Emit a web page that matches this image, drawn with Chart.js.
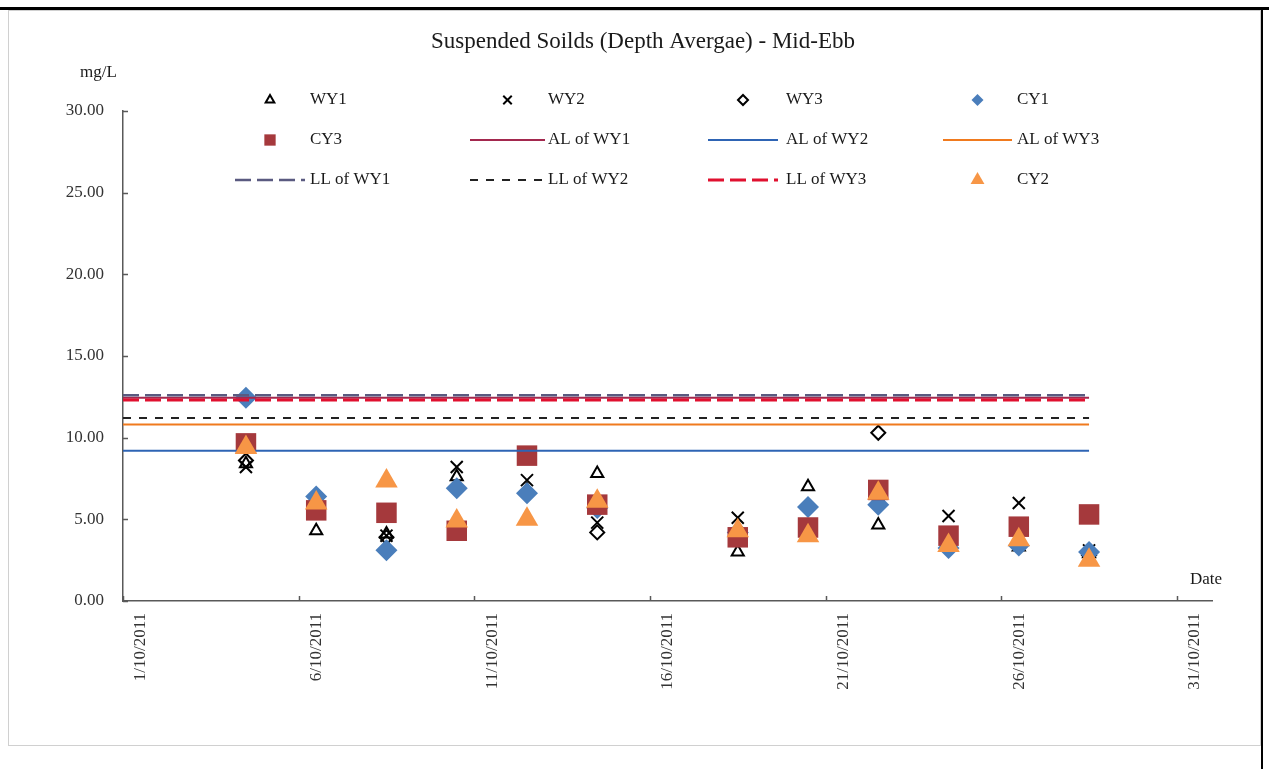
<!DOCTYPE html>
<html>
<head>
<meta charset="utf-8">
<script src="https://cdn.jsdelivr.net/npm/chart.js@4.4.0/dist/chart.umd.min.js"></script>
<style>
  html, body { margin: 0; padding: 0; background: #fff; }
  #wrap { width: 1269px; height: 769px; }
</style>
</head>
<body>
<div id="wrap"><canvas id="ssChart" width="1269" height="769"></canvas></div>
<script>
// sampling days in October 2011 (day of month, noon)
const sampleDays = [4.5, 6.5, 8.5, 10.5, 12.5, 14.5, 18.5, 20.5, 22.5, 24.5, 26.5, 28.5];

// suspended solids, mg/L
const wy1 = [8.4, 4.3, 4.1, 7.6, 6.8, 7.8, 3.0, 7.0, 4.65, 3.5, 3.3, 2.9];
const wy2 = [8.2, 6.0, 4.0, 8.2, 7.4, 4.8, 5.1, 4.5, 6.5, 5.2, 6.0, 3.1];
const wy3 = [8.6, 6.3, 3.9, 6.9, 6.5, 4.2, 4.3, 4.5, 10.3, 3.8, 3.5, 2.8];
const cy1 = [12.45, 6.4, 3.1, 6.9, 6.6, 5.7, 4.2, 5.75, 5.9, 3.25, 3.4, 3.0];
const cy3 = [9.65, 5.55, 5.4, 4.3, 8.9, 5.9, 3.9, 4.5, 6.8, 4.0, 4.55, 5.3];
const cy2 = [9.4, 6.0, 7.35, 4.9, 5.0, 6.1, 4.3, 4.0, 6.6, 3.4, 3.75, 2.5];

// action / limit levels
const alWY1 = 12.45, alWY2 = 9.2, alWY3 = 10.8;
const llWY1 = 12.6, llWY2 = 11.2, llWY3 = 12.3;
const levelSpan = [1, 28.5];   // lines run from 1/10 to last survey

// axis ticks
const xTickDays = [1, 6, 11, 16, 21, 26, 31];
const yTicks = [0, 5, 10, 15, 20, 25, 30];

const serif = "'Liberation Serif', 'Times New Roman', serif";

function pts(vals) {
  return sampleDays.map((d, i) => ({ x: d, y: vals[i] }));
}
function level(v) {
  return levelSpan.map(d => ({ x: d, y: v }));
}

// marker series
function markers(label, vals, style, r, fill, stroke, bw, legendR) {
  return {
    label: label, data: pts(vals), showLine: false,
    pointStyle: style, pointRadius: r, pointHoverRadius: r,
    backgroundColor: fill, borderColor: stroke, pointBorderWidth: bw,
    legendR: legendR
  };
}
// horizontal level lines
function levelLine(label, v, color, width, dash) {
  return {
    label: label, data: level(v), showLine: true, isLevel: true,
    borderColor: color, backgroundColor: color, borderWidth: width,
    borderDash: dash, pointRadius: 0, pointHoverRadius: 0, fill: false
  };
}

const datasets = [
  markers('WY1', wy1, 'triangle', 7, 'rgba(0,0,0,0)', '#000', 2, 5),
  markers('WY2', wy2, 'crossRot', 8.5, '#000', '#000', 2, 6),
  markers('WY3', wy3, 'rectRot', 7, 'rgba(0,0,0,0)', '#000', 2, 5),
  markers('CY1', cy1, 'rectRot', 11, '#4a7ebb', '#4a7ebb', 0, 6),
  markers('CY3', cy3, 'rect', 14.5, '#a5393c', '#a5393c', 0, 8),
  levelLine('AL of WY1', alWY1, '#a3284e', 2, []),
  levelLine('AL of WY2', alWY2, '#2e64b4', 2, []),
  levelLine('AL of WY3', alWY3, '#f07a1e', 2, []),
  levelLine('LL of WY1', llWY1, '#5a5a80', 2.5, [16, 6]),
  levelLine('LL of WY2', llWY2, '#222', 2, [8, 8]),
  levelLine('LL of WY3', llWY3, '#e0102f', 3, [16, 6]),
  markers('CY2', cy2, 'triangle', 13, '#f79646', '#f79646', 0, 8)
];
// later series on top, like the source spreadsheet
datasets.forEach((ds, i) => { ds.order = datasets.length - i; });

// legend grid: 4 columns x 3 rows
const legendCols = [
  { x0: 235, x1: 305, tx: 310 },
  { x0: 470, x1: 545, tx: 548 },
  { x0: 708, x1: 778, tx: 786 },
  { x0: 943, x1: 1012, tx: 1017 }
];
const legendRows = [100, 140, 180];

const decorations = {
  id: 'decorations',
  beforeDraw(chart) {
    const ctx = chart.ctx;
    ctx.save();
    ctx.fillStyle = '#fff';
    ctx.fillRect(0, 0, chart.width, chart.height);
    // outer frame
    ctx.strokeStyle = '#d0d0d0';
    ctx.lineWidth = 1;
    ctx.strokeRect(8.5, 10.5, 1252, 735);
    ctx.strokeStyle = '#000';
    ctx.lineWidth = 3;
    ctx.beginPath();
    ctx.moveTo(0, 8.5); ctx.lineTo(1269, 8.5);
    ctx.stroke();
    ctx.lineWidth = 2;
    ctx.beginPath();
    ctx.moveTo(1262, 8); ctx.lineTo(1262, 769);
    ctx.stroke();
    ctx.restore();
  },
  afterDraw(chart) {
    const ctx = chart.ctx;
    const xs = chart.scales.x, ys = chart.scales.y;
    ctx.save();
    // inward tick marks
    ctx.strokeStyle = '#595959';
    ctx.lineWidth = 1.5;
    ctx.beginPath();
    ys.ticks.forEach(t => {
      const py = Math.round(ys.getPixelForValue(t.value)) + 0.5;
      ctx.moveTo(xs.left, py); ctx.lineTo(xs.left + 5, py);
    });
    xs.ticks.forEach(t => {
      const px = Math.round(xs.getPixelForValue(t.value)) + 0.5;
      ctx.moveTo(px, ys.bottom); ctx.lineTo(px, ys.bottom - 5);
    });
    ctx.stroke();

    // title and axis names
    ctx.fillStyle = '#1a1a1a';
    ctx.textBaseline = 'middle';
    ctx.textAlign = 'center';
    ctx.font = '23px ' + serif;
    ctx.fillText('Suspended Soilds (Depth Avergae) - Mid-Ebb', 643, 42);
    ctx.font = '17px ' + serif;
    ctx.textAlign = 'left';
    ctx.fillText('mg/L', 80, 73);
    ctx.fillText('Date', 1190, 580);

    // legend
    chart.data.datasets.forEach((ds, i) => {
      const col = legendCols[i % 4], y = legendRows[Math.floor(i / 4)];
      if (ds.isLevel) {
        ctx.strokeStyle = ds.borderColor;
        ctx.lineWidth = ds.borderWidth;
        ctx.setLineDash(ds.borderDash);
        ctx.beginPath();
        ctx.moveTo(col.x0, y); ctx.lineTo(col.x1, y);
        ctx.stroke();
        ctx.setLineDash([]);
      } else {
        ctx.fillStyle = ds.backgroundColor;
        ctx.strokeStyle = ds.borderColor;
        ctx.lineWidth = ds.pointBorderWidth;
        Chart.helpers.drawPoint(ctx, {
          pointStyle: ds.pointStyle, radius: ds.legendR, rotation: 0,
          borderWidth: ds.pointBorderWidth
        }, (col.x0 + col.x1) / 2, y);
      }
      ctx.fillStyle = '#1a1a1a';
      ctx.font = '17px ' + serif;
      ctx.textAlign = 'left';
      ctx.fillText(ds.label, col.tx, y);
    });
    ctx.restore();
  }
};

new Chart(document.getElementById('ssChart').getContext('2d'), {
  type: 'scatter',
  data: { datasets: datasets },
  options: {
    responsive: false,
    animation: false,
    layout: { padding: { left: 0, top: 111, right: 57, bottom: 0 } },
    plugins: {
      legend: { display: false },
      title: { display: false },
      tooltip: { enabled: false }
    },
    scales: {
      x: {
        type: 'linear', min: 1, max: 32,
        afterBuildTicks: scale => { scale.ticks = xTickDays.map(v => ({ value: v })); },
        afterFit: scale => { scale.height = 168; },
        grid: { display: false, drawTicks: false },
        border: { color: '#595959', width: 1.5 },
        ticks: {
          autoSkip: false, minRotation: 90, maxRotation: 90,
          padding: 12, labelOffset: 18,
          color: '#333', font: { family: serif, size: 17 },
          callback: v => v + '/10/2011'
        }
      },
      y: {
        min: 0, max: 30,
        afterBuildTicks: scale => { scale.ticks = yTicks.map(v => ({ value: v })); },
        afterFit: scale => { scale.width = 123; },
        grid: { display: false, drawTicks: false },
        border: { color: '#595959', width: 1.5 },
        ticks: {
          padding: 19, color: '#333', font: { family: serif, size: 17 },
          callback: v => v.toFixed(2)
        }
      }
    }
  },
  plugins: [decorations]
});
</script>
</body>
</html>
